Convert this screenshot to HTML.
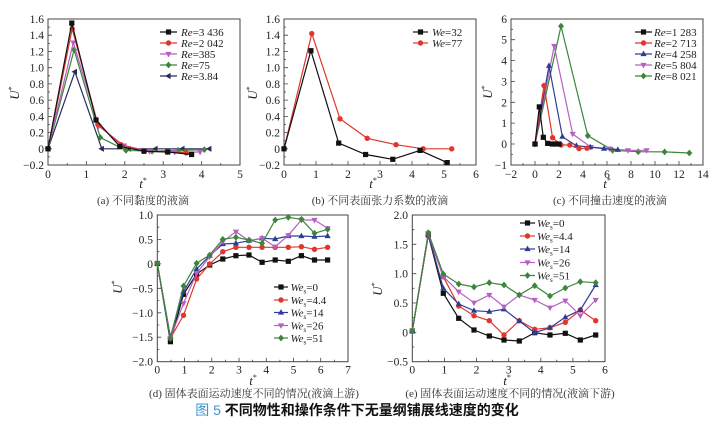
<!DOCTYPE html>
<html><head><meta charset="utf-8">
<style>
html,body{margin:0;padding:0;background:#fff;}
svg{display:block;}
text{font-family:"Liberation Serif","Noto Serif CJK SC",serif;fill:#222;}
.tk{font-size:11.5px;}
.lg{font-size:11px;}
.cap{font-size:11px;fill:#333;}
.ax{fill:none;stroke:#444;stroke-width:1;}
.tick{fill:none;stroke:#444;stroke-width:0.8;}
.s{fill:none;stroke-width:1.2;}
</style></head>
<body>
<svg width="718" height="421" viewBox="0 0 718 421" xmlns="http://www.w3.org/2000/svg">
<defs>
<marker id="sqK" markerWidth="1" markerHeight="1" refX="0" refY="0" markerUnits="userSpaceOnUse" style="overflow:visible"><rect x="-2.6" y="-2.6" width="5.2" height="5.2" fill="#111"/></marker>
<marker id="ciR" markerWidth="1" markerHeight="1" refX="0" refY="0" markerUnits="userSpaceOnUse" style="overflow:visible"><circle r="2.7" fill="#e0362e"/></marker>
<marker id="tuB" markerWidth="1" markerHeight="1" refX="0" refY="0" markerUnits="userSpaceOnUse" style="overflow:visible"><polygon points="0,-3.4 3.1,2.1 -3.1,2.1" fill="#2e3d94"/></marker>
<marker id="tdP" markerWidth="1" markerHeight="1" refX="0" refY="0" markerUnits="userSpaceOnUse" style="overflow:visible"><polygon points="0,3.4 3.1,-2.1 -3.1,-2.1" fill="#b560c2"/></marker>
<marker id="diG" markerWidth="1" markerHeight="1" refX="0" refY="0" markerUnits="userSpaceOnUse" style="overflow:visible"><polygon points="0,-3.4 3,0 0,3.4 -3,0" fill="#3b863b"/></marker>
<marker id="tlN" markerWidth="1" markerHeight="1" refX="0" refY="0" markerUnits="userSpaceOnUse" style="overflow:visible"><polygon points="-3.4,0 2.1,-3.1 2.1,3.1" fill="#2a2b5c"/></marker>
</defs>

<!-- ================= (a) ================= -->
<rect class="ax" x="48" y="19" width="192" height="146"/>
<path class="tick" d="M86.4 165v-4M124.8 165v-4M163.2 165v-4M201.6 165v-4M67.2 165v-2M105.6 165v-2M144 165v-2M182.4 165v-2M220.8 165v-2
M48 148.8h4M48 132.6h4M48 116.4h4M48 100.1h4M48 83.9h4M48 67.7h4M48 51.5h4M48 35.2h4
M48 156.9h2M48 140.7h2M48 124.5h2M48 108.3h2M48 92h2M48 75.8h2M48 59.6h2M48 43.4h2M48 27.1h2"/>
<g class="tk" text-anchor="end">
<text x="44" y="23">1.6</text><text x="44" y="39.2">1.4</text><text x="44" y="55.5">1.2</text><text x="44" y="71.7">1.0</text><text x="44" y="87.9">0.8</text><text x="44" y="104.1">0.6</text><text x="44" y="120.4">0.4</text><text x="44" y="136.6">0.2</text><text x="44" y="152.8">0</text><text x="44" y="169">−0.2</text>
</g>
<g class="tk" text-anchor="middle">
<text x="48" y="178">0</text><text x="86.4" y="178">1</text><text x="124.8" y="178">2</text><text x="163.2" y="178">3</text><text x="201.6" y="178">4</text><text x="240" y="178">5</text>
</g>
<text x="19" y="93" transform="rotate(-90 19 93)" text-anchor="middle" font-size="13" font-style="italic">U<tspan font-size="8" dy="-5" font-style="normal">*</tspan></text>
<text x="143" y="188" text-anchor="middle" font-size="13" font-style="italic">t<tspan font-size="8" dy="-5" font-style="normal">*</tspan></text>
<polyline class="s" stroke="#2a2b5c" marker-start="url(#tlN)" marker-mid="url(#tlN)" marker-end="url(#tlN)" points="48,148.8 74.9,71.8 101.8,148.8 128.6,148.8 155.5,148.8 182.4,148.8 209.3,148.8"/>
<polyline class="s" stroke="#3b863b" marker-start="url(#diG)" marker-mid="url(#diG)" marker-end="url(#diG)" points="48,148.8 74.1,49.8 100.2,137.4 126,150.4 152.1,151.2 178.2,150.4 204.3,149.6"/>
<polyline class="s" stroke="#b560c2" marker-start="url(#tdP)" marker-mid="url(#tdP)" marker-end="url(#tdP)" points="48,148.8 73.3,42.6 98.7,126.1 124,145.6 149.4,151.2 174.7,152 200.1,152"/>
<polyline class="s" stroke="#e0362e" marker-start="url(#ciR)" marker-mid="url(#ciR)" marker-end="url(#ciR)" points="48,148.8 72.2,28.8 97.9,124.5 121,144.7 144,151.2 167,152 186.2,152.9"/>
<polyline class="s" stroke="#111" marker-start="url(#sqK)" marker-mid="url(#sqK)" marker-end="url(#sqK)" points="48,148.8 71.8,23.1 96,120 119.8,146.4 144,151.2 167.8,152 191.6,154.5"/>
<!-- legend a -->
<polyline class="s" stroke="#111" marker-mid="url(#sqK)" points="160,32 168.5,32 177,32"/>
<polyline class="s" stroke="#e0362e" marker-mid="url(#ciR)" points="160,43 168.5,43 177,43"/>
<polyline class="s" stroke="#b560c2" marker-mid="url(#tdP)" points="160,54 168.5,54 177,54"/>
<polyline class="s" stroke="#3b863b" marker-mid="url(#diG)" points="160,65 168.5,65 177,65"/>
<polyline class="s" stroke="#2a2b5c" marker-mid="url(#tlN)" points="160,76 168.5,76 177,76"/>
<g class="lg">
<text x="181" y="36"><tspan font-style="italic">Re</tspan>=3 436</text>
<text x="181" y="47"><tspan font-style="italic">Re</tspan>=2 042</text>
<text x="181" y="58"><tspan font-style="italic">Re</tspan>=385</text>
<text x="181" y="69"><tspan font-style="italic">Re</tspan>=75</text>
<text x="181" y="80"><tspan font-style="italic">Re</tspan>=3.84</text>
</g>
<text class="cap" x="143" y="204" text-anchor="middle">(a) 不同黏度的液滴</text>

<!-- ================= (b) ================= -->
<rect class="ax" x="284" y="19" width="192" height="146"/>
<path class="tick" d="M316 165v-4M348 165v-4M380 165v-4M412 165v-4M444 165v-4M300 165v-2M332 165v-2M364 165v-2M396 165v-2M428 165v-2M460 165v-2
M284 148.8h4M284 132.6h4M284 116.4h4M284 100.1h4M284 83.9h4M284 67.7h4M284 51.5h4M284 35.2h4
M284 156.9h2M284 140.7h2M284 124.5h2M284 108.3h2M284 92h2M284 75.8h2M284 59.6h2M284 43.4h2M284 27.1h2"/>
<g class="tk" text-anchor="end">
<text x="280" y="23">1.6</text><text x="280" y="39.2">1.4</text><text x="280" y="55.5">1.2</text><text x="280" y="71.7">1.0</text><text x="280" y="87.9">0.8</text><text x="280" y="104.1">0.6</text><text x="280" y="120.4">0.4</text><text x="280" y="136.6">0.2</text><text x="280" y="152.8">0</text><text x="280" y="169">−0.2</text>
</g>
<g class="tk" text-anchor="middle">
<text x="284" y="178">0</text><text x="316" y="178">1</text><text x="348" y="178">2</text><text x="380" y="178">3</text><text x="412" y="178">4</text><text x="444" y="178">5</text><text x="476" y="178">6</text>
</g>
<text x="257" y="93" transform="rotate(-90 257 93)" text-anchor="middle" font-size="13" font-style="italic">U<tspan font-size="8" dy="-5" font-style="normal">*</tspan></text>
<text x="373" y="188" text-anchor="middle" font-size="13" font-style="italic">t<tspan font-size="8" dy="-5" font-style="normal">*</tspan></text>
<polyline class="s" stroke="#e0362e" marker-start="url(#ciR)" marker-mid="url(#ciR)" marker-end="url(#ciR)" points="284,148.8 311.8,33.6 340,118.8 367.2,138.3 396,144.7 423.2,148.8 451.7,148.8"/>
<polyline class="s" stroke="#111" marker-start="url(#sqK)" marker-mid="url(#sqK)" marker-end="url(#sqK)" points="284,148.8 310.9,50.7 338.7,143.1 365.6,154.5 392.8,159.3 420,150.4 447.2,162.6"/>
<polyline class="s" stroke="#111" marker-mid="url(#sqK)" points="413,32 420.5,32 428,32"/>
<polyline class="s" stroke="#e0362e" marker-mid="url(#ciR)" points="413,43 420.5,43 428,43"/>
<g class="lg">
<text x="432" y="36"><tspan font-style="italic">We</tspan>=32</text>
<text x="432" y="47"><tspan font-style="italic">We</tspan>=77</text>
</g>
<text class="cap" x="380" y="204" text-anchor="middle">(b) 不同表面张力系数的液滴</text>

<!-- ================= (c) ================= -->
<rect class="ax" x="511" y="19" width="192" height="146"/>
<path class="tick" d="M535 165v-4M559 165v-4M583 165v-4M607 165v-4M631 165v-4M655 165v-4M679 165v-4M523 165v-2M547 165v-2M571 165v-2M595 165v-2M619 165v-2M643 165v-2M667 165v-2M691 165v-2
M511 144h4M511 123.1h4M511 102.3h4M511 81.4h4M511 60.6h4M511 39.7h4
M511 154.4h2M511 133.6h2M511 112.7h2M511 91.9h2M511 71h2M511 50.2h2M511 29.3h2"/>
<g class="tk" text-anchor="end">
<text x="507" y="22.8">6</text><text x="507" y="43.7">5</text><text x="507" y="64.6">4</text><text x="507" y="85.4">3</text><text x="507" y="106.3">2</text><text x="507" y="127.1">1</text><text x="507" y="148">0</text><text x="507" y="168.9">−1</text>
</g>
<g class="tk" text-anchor="middle">
<text x="511" y="178">−2</text><text x="535" y="178">0</text><text x="559" y="178">2</text><text x="583" y="178">4</text><text x="607" y="178">6</text><text x="631" y="178">8</text><text x="655" y="178">10</text><text x="679" y="178">12</text><text x="703" y="178">14</text>
</g>
<text x="492" y="92" transform="rotate(-90 492 92)" text-anchor="middle" font-size="13" font-style="italic">U<tspan font-size="8" dy="-5" font-style="normal">*</tspan></text>
<text x="607" y="188" text-anchor="middle" font-size="13" font-style="italic">t<tspan font-size="8" dy="-5" font-style="normal">*</tspan></text>
<polyline class="s" stroke="#3b863b" marker-start="url(#diG)" marker-mid="url(#diG)" marker-end="url(#diG)" points="535,144 561,26.1 587.8,135.7 612.6,150.3 638.2,151.7 664.6,151.9 689.3,153"/>
<polyline class="s" stroke="#b560c2" marker-start="url(#tdP)" marker-mid="url(#tdP)" marker-end="url(#tdP)" points="535,144 554.2,46 572.7,134 590.8,147.1 609.4,148.6 628,150.3 646.6,150.3"/>
<polyline class="s" stroke="#2e3d94" marker-start="url(#tuB)" marker-mid="url(#tuB)" marker-end="url(#tuB)" points="535,144 549,65.8 562.4,136.7 576.4,145.7 590.2,147.1 604,148.6 617.8,149.8"/>
<polyline class="s" stroke="#e0362e" marker-start="url(#ciR)" marker-mid="url(#ciR)" marker-end="url(#ciR)" points="535,144 544,85.6 552.6,137.7 561,145 569.8,145 579,148.6 587,148.2"/>
<polyline class="s" stroke="#111" marker-start="url(#sqK)" marker-mid="url(#sqK)" marker-end="url(#sqK)" points="535,144 539.3,106.9 543.3,137.3 547.7,143.4 552.3,144 555.6,144 559,144"/>
<polyline class="s" stroke="#111" marker-mid="url(#sqK)" points="635,32 643.5,32 652,32"/>
<polyline class="s" stroke="#e0362e" marker-mid="url(#ciR)" points="635,43 643.5,43 652,43"/>
<polyline class="s" stroke="#2e3d94" marker-mid="url(#tuB)" points="635,54 643.5,54 652,54"/>
<polyline class="s" stroke="#b560c2" marker-mid="url(#tdP)" points="635,65 643.5,65 652,65"/>
<polyline class="s" stroke="#3b863b" marker-mid="url(#diG)" points="635,76 643.5,76 652,76"/>
<g class="lg">
<text x="654" y="36"><tspan font-style="italic">Re</tspan>=1 283</text>
<text x="654" y="47"><tspan font-style="italic">Re</tspan>=2 713</text>
<text x="654" y="58"><tspan font-style="italic">Re</tspan>=4 258</text>
<text x="654" y="69"><tspan font-style="italic">Re</tspan>=5 804</text>
<text x="654" y="80"><tspan font-style="italic">Re</tspan>=8 021</text>
</g>
<text class="cap" x="610" y="204" text-anchor="middle">(c) 不同撞击速度的液滴</text>

<!-- ================= (d) ================= -->
<rect class="ax" x="157.3" y="215" width="190.7" height="146.7"/>
<path class="tick" d="M184.5 361.7v-4M211.8 361.7v-4M239 361.7v-4M266.3 361.7v-4M293.5 361.7v-4M320.7 361.7v-4M170.9 361.7v-2M198.1 361.7v-2M225.4 361.7v-2M252.6 361.7v-2M279.9 361.7v-2M307.1 361.7v-2M334.4 361.7v-2
M157.3 239.5h4M157.3 263.9h4M157.3 288.3h4M157.3 312.8h4M157.3 337.2h4
M157.3 227.2h2M157.3 251.7h2M157.3 276.1h2M157.3 300.6h2M157.3 325h2M157.3 349.5h2"/>
<g class="tk" text-anchor="end">
<text x="153" y="219">1.0</text><text x="153" y="243.5">0.5</text><text x="153" y="267.9">0</text><text x="153" y="292.3">−0.5</text><text x="153" y="316.8">−1.0</text><text x="153" y="341.2">−1.5</text><text x="153" y="365.7">−2.0</text>
</g>
<g class="tk" text-anchor="middle">
<text x="157.3" y="373.5">0</text><text x="184.5" y="373.5">1</text><text x="211.8" y="373.5">2</text><text x="239" y="373.5">3</text><text x="266.3" y="373.5">4</text><text x="293.5" y="373.5">5</text><text x="320.7" y="373.5">6</text><text x="348" y="373.5">7</text>
</g>
<text x="122" y="287" transform="rotate(-90 122 287)" text-anchor="middle" font-size="13" font-style="italic">U<tspan font-size="8" dy="-5" font-style="normal">*</tspan></text>
<text x="253" y="385" text-anchor="middle" font-size="13" font-style="italic">t<tspan font-size="8" dy="-5" font-style="normal">*</tspan></text>
<polyline class="s" stroke="#111" marker-start="url(#sqK)" marker-mid="url(#sqK)" marker-end="url(#sqK)" points="157.3,263.5 170.4,341.7 183.5,294.3 196.6,274 209.7,265 222.8,259 235.9,255.7 249,255 262.1,262.3 275.2,260 288.3,261.3 301.4,255.7 314.5,260 327.6,260"/>
<polyline class="s" stroke="#e0362e" marker-start="url(#ciR)" marker-mid="url(#ciR)" marker-end="url(#ciR)" points="157.3,263.5 170.4,338.3 183.5,315.3 196.6,279 209.7,264 222.8,251.7 235.9,247.3 249,247.3 262.1,247.3 275.2,247.3 288.3,247.3 301.4,246.7 314.5,249.3 327.6,247.3"/>
<polyline class="s" stroke="#2e3d94" marker-start="url(#tuB)" marker-mid="url(#tuB)" marker-end="url(#tuB)" points="157.3,263.5 170.4,336.7 183.5,291.7 196.6,269 209.7,255.7 222.8,244 235.9,243.3 249,240.7 262.1,238.3 275.2,239 288.3,236 301.4,236 314.5,236.7 327.6,236"/>
<polyline class="s" stroke="#b560c2" marker-start="url(#tdP)" marker-mid="url(#tdP)" marker-end="url(#tdP)" points="157.3,263.5 170.4,338.3 183.5,303.3 196.6,273.3 209.7,256.7 222.8,241.7 235.9,231.7 249,240.7 262.1,238.3 275.2,246.7 288.3,235.3 301.4,220 314.5,220 327.6,228.3"/>
<polyline class="s" stroke="#3b863b" marker-start="url(#diG)" marker-mid="url(#diG)" marker-end="url(#diG)" points="157.3,263.5 170.4,338.3 183.5,286 196.6,263.3 209.7,255 222.8,239.3 235.9,237.3 249,240 262.1,243.3 275.2,220 288.3,217.3 301.4,219.3 314.5,233.3 327.6,229.3"/>
<polyline class="s" stroke="#111" marker-mid="url(#sqK)" points="274,287 281,287 288,287"/>
<polyline class="s" stroke="#e0362e" marker-mid="url(#ciR)" points="274,300 281,300 288,300"/>
<polyline class="s" stroke="#2e3d94" marker-mid="url(#tuB)" points="274,312.5 281,312.5 288,312.5"/>
<polyline class="s" stroke="#b560c2" marker-mid="url(#tdP)" points="274,325.5 281,325.5 288,325.5"/>
<polyline class="s" stroke="#3b863b" marker-mid="url(#diG)" points="274,338 281,338 288,338"/>
<g class="lg">
<text x="290.5" y="291"><tspan font-style="italic">We</tspan><tspan font-size="7" dy="2.5">s</tspan><tspan dy="-2.5">=0</tspan></text>
<text x="290.5" y="304"><tspan font-style="italic">We</tspan><tspan font-size="7" dy="2.5">s</tspan><tspan dy="-2.5">=4.4</tspan></text>
<text x="290.5" y="316.5"><tspan font-style="italic">We</tspan><tspan font-size="7" dy="2.5">s</tspan><tspan dy="-2.5">=14</tspan></text>
<text x="290.5" y="329.5"><tspan font-style="italic">We</tspan><tspan font-size="7" dy="2.5">s</tspan><tspan dy="-2.5">=26</tspan></text>
<text x="290.5" y="342"><tspan font-style="italic">We</tspan><tspan font-size="7" dy="2.5">s</tspan><tspan dy="-2.5">=51</tspan></text>
</g>
<text class="cap" x="254" y="397" text-anchor="middle">(d) 固体表面运动速度不同的情况(液滴上游)</text>

<!-- ================= (e) ================= -->
<rect class="ax" x="412.3" y="215" width="192.7" height="146.7"/>
<path class="tick" d="M444.4 361.7v-4M476.5 361.7v-4M508.7 361.7v-4M540.8 361.7v-4M572.9 361.7v-4M428.4 361.7v-2M460.5 361.7v-2M492.6 361.7v-2M524.7 361.7v-2M556.8 361.7v-2M588.9 361.7v-2
M412.3 244.3h4M412.3 273.7h4M412.3 303h4M412.3 332.4h4
M412.3 229.7h2M412.3 259h2M412.3 288.3h2M412.3 317.7h2M412.3 347h2"/>
<g class="tk" text-anchor="end">
<text x="408" y="219">2.0</text><text x="408" y="248.3">1.5</text><text x="408" y="277.7">1.0</text><text x="408" y="307">0.5</text><text x="408" y="336.4">0</text><text x="408" y="365.7">−0.5</text>
</g>
<g class="tk" text-anchor="middle">
<text x="412.3" y="373.5">0</text><text x="444.4" y="373.5">1</text><text x="476.5" y="373.5">2</text><text x="508.7" y="373.5">3</text><text x="540.8" y="373.5">4</text><text x="572.9" y="373.5">5</text><text x="605" y="373.5">6</text>
</g>
<text x="382" y="289" transform="rotate(-90 382 289)" text-anchor="middle" font-size="13" font-style="italic">U<tspan font-size="8" dy="-5" font-style="normal">*</tspan></text>
<text x="507" y="385" text-anchor="middle" font-size="13" font-style="italic">t<tspan font-size="8" dy="-5" font-style="normal">*</tspan></text>
<polyline class="s" stroke="#111" marker-start="url(#sqK)" marker-mid="url(#sqK)" marker-end="url(#sqK)" points="412.3,331 428.3,235 443.3,293.3 458.7,318.3 474,330 489.3,336 504,340 519.3,341 534.7,332.7 550,335 565.3,333.3 580.3,340 595.7,335"/>
<polyline class="s" stroke="#e0362e" marker-start="url(#ciR)" marker-mid="url(#ciR)" marker-end="url(#ciR)" points="412.3,331 428.3,235 443.3,276.7 458.7,306 474,315.7 489.3,320.7 504,335 519.3,320.7 534.7,329.3 550,327.7 565.3,322.3 580.3,310 595.7,320.7"/>
<polyline class="s" stroke="#2e3d94" marker-start="url(#tuB)" marker-mid="url(#tuB)" marker-end="url(#tuB)" points="412.3,331 428.3,234.3 443.3,288.3 458.7,304 474,310.7 489.3,311.7 504,309.3 519.3,321 534.7,332.7 550,327.7 565.3,317.3 580.3,310 595.7,285"/>
<polyline class="s" stroke="#b560c2" marker-start="url(#tdP)" marker-mid="url(#tdP)" marker-end="url(#tdP)" points="412.3,331 428.3,233.3 443.3,276.7 458.7,291.7 474,302.7 489.3,295 504,306.7 519.3,295 534.7,300 550,307.7 565.3,300.7 580.3,315.7 595.7,300"/>
<polyline class="s" stroke="#3b863b" marker-start="url(#diG)" marker-mid="url(#diG)" marker-end="url(#diG)" points="412.3,331 428.3,232.7 443.3,274 458.7,284 474,287 489.3,282.7 504,285 519.3,295 534.7,285.7 550,296 565.3,288 580.3,281.7 595.7,282.7"/>
<polyline class="s" stroke="#111" marker-mid="url(#sqK)" points="520,223 527.5,223 535,223"/>
<polyline class="s" stroke="#e0362e" marker-mid="url(#ciR)" points="520,236 527.5,236 535,236"/>
<polyline class="s" stroke="#2e3d94" marker-mid="url(#tuB)" points="520,249 527.5,249 535,249"/>
<polyline class="s" stroke="#b560c2" marker-mid="url(#tdP)" points="520,262.5 527.5,262.5 535,262.5"/>
<polyline class="s" stroke="#3b863b" marker-mid="url(#diG)" points="520,275.5 527.5,275.5 535,275.5"/>
<g class="lg">
<text x="537" y="227"><tspan font-style="italic">We</tspan><tspan font-size="7" dy="2.5">s</tspan><tspan dy="-2.5">=0</tspan></text>
<text x="537" y="240"><tspan font-style="italic">We</tspan><tspan font-size="7" dy="2.5">s</tspan><tspan dy="-2.5">=4.4</tspan></text>
<text x="537" y="253"><tspan font-style="italic">We</tspan><tspan font-size="7" dy="2.5">s</tspan><tspan dy="-2.5">=14</tspan></text>
<text x="537" y="266.5"><tspan font-style="italic">We</tspan><tspan font-size="7" dy="2.5">s</tspan><tspan dy="-2.5">=26</tspan></text>
<text x="537" y="279.5"><tspan font-style="italic">We</tspan><tspan font-size="7" dy="2.5">s</tspan><tspan dy="-2.5">=51</tspan></text>
</g>
<text class="cap" x="510" y="397" text-anchor="middle">(e) 固体表面运动速度不同的情况(液滴下游)</text>

<!-- title -->
<text x="357" y="415" text-anchor="middle" font-size="14" font-weight="bold" style="font-family:'Liberation Sans','Noto Sans CJK SC',sans-serif"><tspan fill="#3a96d4" font-weight="normal">图 5 </tspan><tspan fill="#111">不同物性和操作条件下无量纲铺展线速度的变化</tspan></text>
</svg>
</body></html>
